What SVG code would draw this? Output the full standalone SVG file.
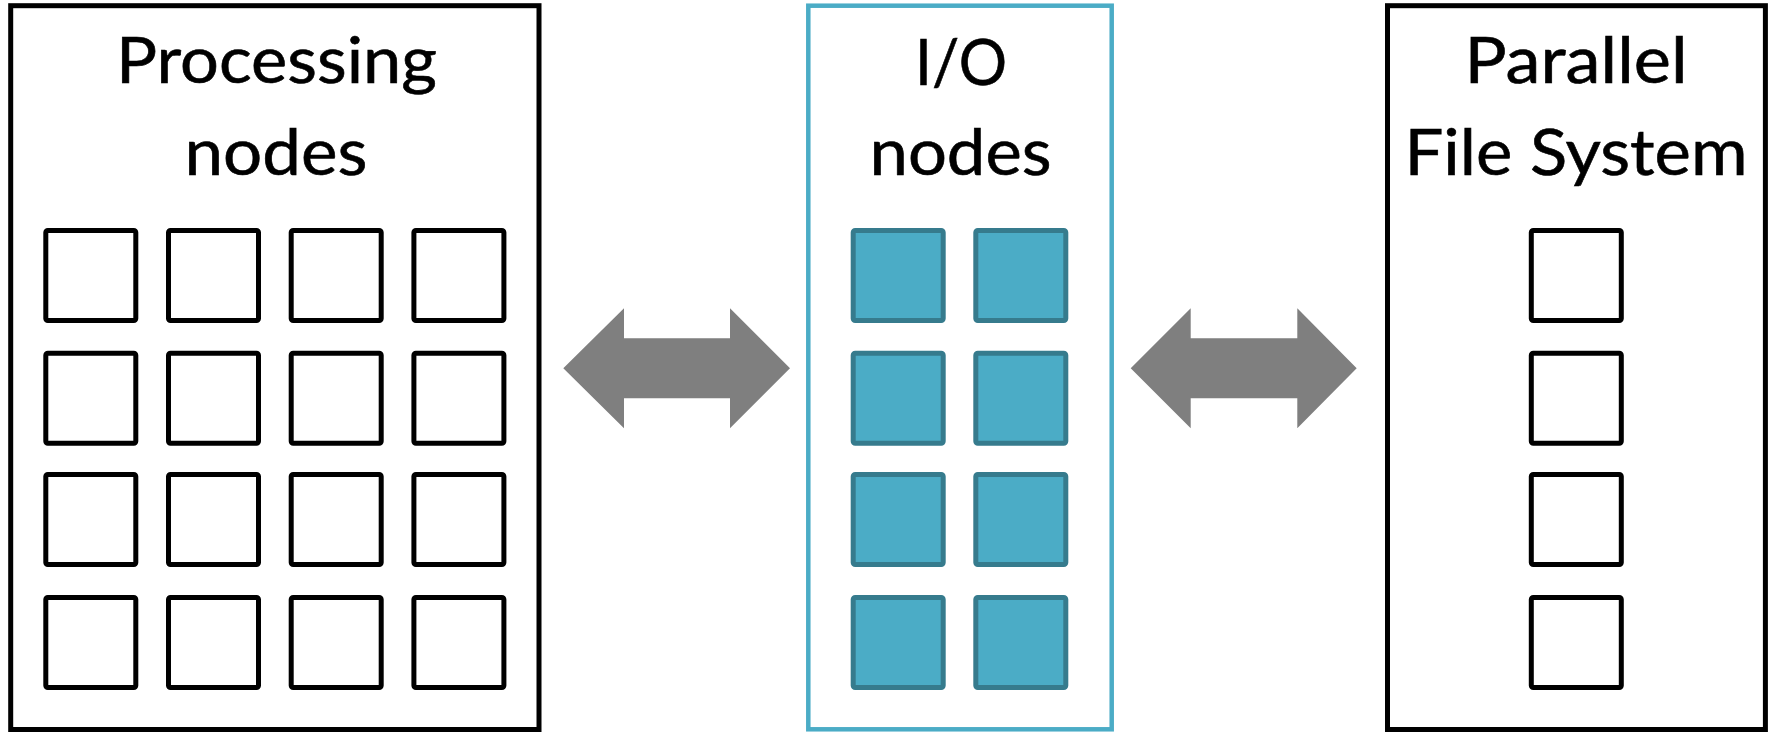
<svg xmlns="http://www.w3.org/2000/svg" width="1771" height="733" viewBox="0 0 1771 733">
<style>
.panel{fill:#fff;stroke:#000;stroke-width:5}
.iopanel{fill:#fff;stroke:#4BACC6;stroke-width:4.5}
.sq{fill:#fff;stroke:#000;stroke-width:5}
.iosq{fill:#4BACC6;stroke:#367B8D;stroke-width:5}
.lbl{font-family:Lato,"Open Sans",sans-serif;font-size:64px;fill:#000;text-anchor:middle;stroke:#000;stroke-width:0.6}
.arrow{fill:#7F7F7F}
</style>
<rect width="1771" height="733" fill="#fff"/>
<g id="processing-nodes">
<rect class="panel" x="10.7" y="5.7" width="528.3" height="723.8"/>
<text class="lbl" x="276.5" y="83.3" textLength="321" lengthAdjust="spacingAndGlyphs">Processing</text>
<text class="lbl" x="276" y="175" textLength="183" lengthAdjust="spacingAndGlyphs">nodes</text>
<g>
<rect class="sq" x="45.8" y="230.5" width="90" height="90" rx="2"/>
<rect class="sq" x="168.5" y="230.5" width="90" height="90" rx="2"/>
<rect class="sq" x="291.2" y="230.5" width="90" height="90" rx="2"/>
<rect class="sq" x="413.9" y="230.5" width="90" height="90" rx="2"/>
<rect class="sq" x="45.8" y="353.2" width="90" height="90" rx="2"/>
<rect class="sq" x="168.5" y="353.2" width="90" height="90" rx="2"/>
<rect class="sq" x="291.2" y="353.2" width="90" height="90" rx="2"/>
<rect class="sq" x="413.9" y="353.2" width="90" height="90" rx="2"/>
<rect class="sq" x="45.8" y="474.5" width="90" height="90" rx="2"/>
<rect class="sq" x="168.5" y="474.5" width="90" height="90" rx="2"/>
<rect class="sq" x="291.2" y="474.5" width="90" height="90" rx="2"/>
<rect class="sq" x="413.9" y="474.5" width="90" height="90" rx="2"/>
<rect class="sq" x="45.8" y="597.5" width="90" height="90" rx="2"/>
<rect class="sq" x="168.5" y="597.5" width="90" height="90" rx="2"/>
<rect class="sq" x="291.2" y="597.5" width="90" height="90" rx="2"/>
<rect class="sq" x="413.9" y="597.5" width="90" height="90" rx="2"/>
</g>
</g>
<g id="io-nodes">
<rect class="iopanel" x="808.3" y="5.7" width="303.4" height="723.6"/>
<text class="lbl" x="961" y="85" textLength="92" lengthAdjust="spacingAndGlyphs">I/O</text>
<text class="lbl" x="960.5" y="175" textLength="182" lengthAdjust="spacingAndGlyphs">nodes</text>
<g>
<rect class="iosq" x="853.2" y="230.5" width="90" height="90" rx="2"/>
<rect class="iosq" x="975.8" y="230.5" width="90" height="90" rx="2"/>
<rect class="iosq" x="853.2" y="353.2" width="90" height="90" rx="2"/>
<rect class="iosq" x="975.8" y="353.2" width="90" height="90" rx="2"/>
<rect class="iosq" x="853.2" y="474.5" width="90" height="90" rx="2"/>
<rect class="iosq" x="975.8" y="474.5" width="90" height="90" rx="2"/>
<rect class="iosq" x="853.2" y="597.5" width="90" height="90" rx="2"/>
<rect class="iosq" x="975.8" y="597.5" width="90" height="90" rx="2"/>
</g>
</g>
<g id="parallel-file-system">
<rect class="panel" x="1387.5" y="5.7" width="377.9" height="723.8"/>
<text class="lbl" x="1576" y="83.3" textLength="223" lengthAdjust="spacingAndGlyphs">Parallel</text>
<text class="lbl" x="1576" y="175" textLength="343" lengthAdjust="spacingAndGlyphs">File System</text>
<g>
<rect class="sq" x="1531.3" y="230.5" width="90" height="90" rx="2"/>
<rect class="sq" x="1531.3" y="353.2" width="90" height="90" rx="2"/>
<rect class="sq" x="1531.3" y="474.5" width="90" height="90" rx="2"/>
<rect class="sq" x="1531.3" y="597.5" width="90" height="90" rx="2"/>
</g>
</g>
<g id="connectors">
<polygon class="arrow" points="563.3,368.3 624,308.3 624,338.3 730,338.3 730,308.3 790,368.3 730,428.3 730,398.3 624,398.3 624,428.3"/>
<polygon class="arrow" points="1130.7,368.3 1190.7,308.3 1190.7,338.3 1297.3,338.3 1297.3,308.3 1356.7,368.3 1297.3,428.3 1297.3,398.3 1190.7,398.3 1190.7,428.3"/>
</g>
</svg>
